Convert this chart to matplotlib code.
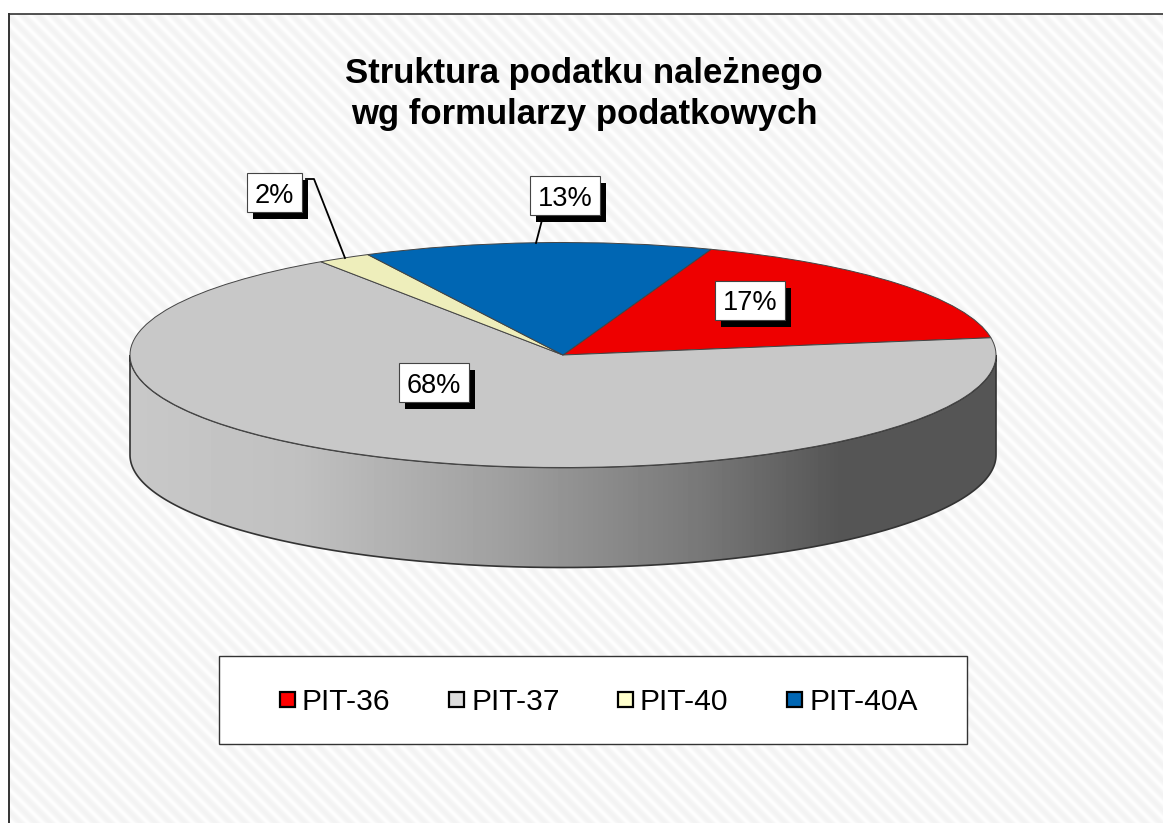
import matplotlib
matplotlib.use("Agg")
import matplotlib.pyplot as plt
from matplotlib.patches import Rectangle, PathPatch
from matplotlib.path import Path
import numpy as np

plt.rcParams['font.family'] = ['Liberation Sans', 'DejaVu Sans']

# Data
categories = ['PIT-36', 'PIT-37', 'PIT-40', 'PIT-40A']
shares = [17, 68, 2, 13]
top_colors = ['#EE0000', '#C8C8C8', '#EEEEBB', '#0066B3']
legend_colors = ['#FF0000', '#DDDDDD', '#FFFFCC', '#0066B3']
title_lines = ['Struktura podatku należnego', 'wg formularzy podatkowych']

W, H = 1163, 823
cx, cy = 563, 355
rx, ry = 433, 112.5
depth = 100

fig = plt.figure(figsize=(W / 100, H / 100), dpi=100, facecolor='white')

# pixel coordinate layer for background and pie side
ax = fig.add_axes([0, 0, 1, 1], zorder=1)
ax.set_xlim(0, W)
ax.set_ylim(H, 0)
ax.axis('off')

# striped background
xx, yy = np.meshgrid(np.arange(9, W), np.arange(14, H))
stripes = 0.5 + 0.5 * np.cos(2 * np.pi * (xx - yy) / 15)
bg = 0.955 + 0.04 * stripes ** 2
ax.imshow(bg, cmap='gray', vmin=0, vmax=1, extent=(9, W, H, 14), aspect='auto',
          interpolation='bilinear', zorder=0)
ax.plot([9, 9], [H, 14], color='#333333', lw=1.4, zorder=1)
ax.plot([9, W], [14, 14], color='#333333', lw=1.2, zorder=1)

# side of the pie: horizontal gradient clipped to the extruded outline
t = np.linspace(np.pi, 0, 300)
ex = cx + rx * np.cos(t)
ey = cy + ry * np.sin(t)
verts = np.vstack([np.column_stack([ex, ey]), np.column_stack([ex[::-1], ey[::-1] + depth]), [[ex[0], ey[0]]]])
codes = [Path.MOVETO] + [Path.LINETO] * (len(verts) - 2) + [Path.CLOSEPOLY]
side = PathPatch(Path(verts, codes), facecolor='none', edgecolor='#333333', lw=1.2, zorder=3)
ax.add_patch(side)
grad_x = np.arange(130, 997)
grad = np.interp(grad_x, [130, 300, 500, 700, 840, 997], [0xC8, 0xC0, 0xA0, 0x78, 0x55, 0x55]) / 255
im = ax.imshow(grad[np.newaxis, :], cmap='gray', vmin=0, vmax=1, extent=(130, 997, 570, 340),
               aspect='auto', zorder=2)
im.set_clip_path(side)
ax.set_xlim(0, W)
ax.set_ylim(H, 0)

# top of the pie, ellipse comes from a non-equal aspect
pie_ax = fig.add_axes([(cx - rx) / W, 1 - (cy + ry) / H, 2 * rx / W, 2 * ry / H], zorder=2)
pie_ax.pie(shares, colors=top_colors, startangle=70, counterclock=False, radius=1,
           wedgeprops={'edgecolor': '#444444', 'linewidth': 0.7})
pie_ax.set_aspect('auto')
pie_ax.set_xlim(-1, 1)
pie_ax.set_ylim(-1, 1)
pie_ax.patch.set_visible(False)
for p in pie_ax.patches:
    p.set_clip_on(False)

# overlay for title, labels, legend
top = fig.add_axes([0, 0, 1, 1], zorder=3)
top.set_xlim(0, W)
top.set_ylim(H, 0)
top.axis('off')

top.text(584, 73, title_lines[0], fontsize=25, fontweight='bold', ha='center', va='center', color='black')
top.text(584, 114, title_lines[1], fontsize=25, fontweight='bold', ha='center', va='center', color='black')


def pct_label(text, x0, y0, w, h):
    top.add_patch(Rectangle((x0 + 6, y0 + 6.5), w, h, facecolor='black', edgecolor='none', zorder=4))
    top.add_patch(Rectangle((x0, y0), w, h, facecolor='white', edgecolor='#444444', lw=0.8, zorder=5))
    top.text(x0 + w / 2, y0 + h / 2 + 3, text, fontsize=19.5, ha='center', va='center', zorder=6)


# leader lines
top.plot([306, 314, 345], [179, 179, 258], color='black', lw=1.3, zorder=3)
top.plot([542, 536], [220, 243], color='black', lw=1.3, zorder=3)

pct_label(f'{shares[2]}%', 247, 173, 55, 39)
pct_label(f'{shares[3]}%', 530, 176, 70, 39)
pct_label(f'{shares[0]}%', 715, 281, 70, 39)
pct_label(f'{shares[1]}%', 399, 363, 70, 39)

# legend box
top.add_patch(Rectangle((219, 656), 748, 88, facecolor='white', edgecolor='#333333', lw=1.0, zorder=4))
swatch_x = [280, 449, 618, 787]
text_x = [303, 472, 641, 810]
for c, sx, tx, name in zip(legend_colors, swatch_x, text_x, categories):
    top.add_patch(Rectangle((sx, 692), 15, 15, facecolor=c, edgecolor='black', lw=1.6, zorder=5))
    top.text(tx - 1, 702, name, fontsize=21.6, ha='left', va='center', zorder=6)

fig.savefig('out.png', dpi=100, facecolor='white')
